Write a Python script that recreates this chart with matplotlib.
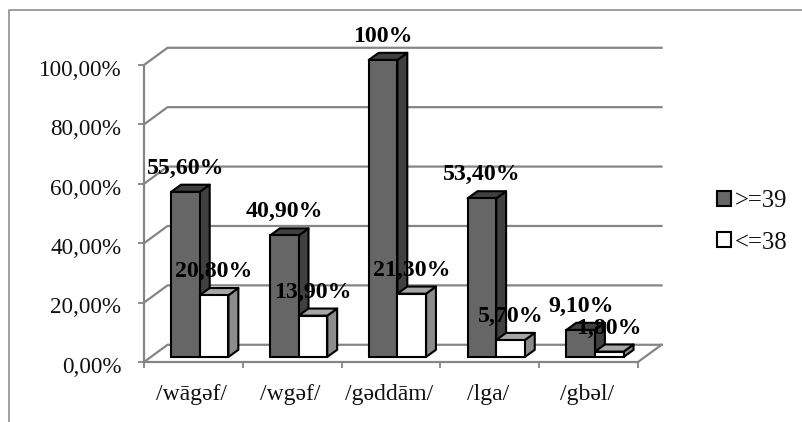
import numpy as np
import matplotlib
matplotlib.use('Agg')
import matplotlib.pyplot as plt
from matplotlib.lines import Line2D
from matplotlib.patches import Patch
from matplotlib.transforms import ScaledTranslation

plt.rcParams['font.family'] = ['Liberation Serif', 'DejaVu Serif']

categorias = ['/wāgəf/', '/wgəf/', '/gəddām/', '/lga/', '/gbəl/']
mayores = [55.6, 40.9, 100, 53.4, 9.1]
menores = [20.8, 13.9, 21.3, 5.7, 1.8]
etiq_mayores = ['55,60%', '40,90%', '100%', '53,40%', '9,10%']
etiq_menores = ['20,80%', '13,90%', '21,30%', '5,70%', '1,80%']
ticks_y = [0, 20, 40, 60, 80, 100]
etiq_y = ['0,00%', '20,00%', '40,00%', '60,00%', '80,00%', '100,00%']

W, H = 802, 422
GRIS = '#858585'

# falso 3D: desplazamientos en unidades de datos
pared_dx, pared_dy = 0.238, 5.8
barra_dx, barra_dy = 0.1, 2.4
base = 1.7
ancho = 0.29
margen = 0.275

fig = plt.figure(figsize=(W / 100, H / 100), dpi=100)
ax = fig.add_axes([144 / W, (H - 362) / H, (638 - 144) / W, (362 - 65) / H])
ax.set_xlim(0, 5)
ax.set_ylim(0, 100)
ax.patch.set_visible(False)

# marco exterior
fig.add_artist(Line2D([8.5 / W, 8.5 / W, 1], [0, 1 - 10 / H, 1 - 10 / H], color=GRIS, lw=1.1))

# rejilla de la pared
for v in ticks_y:
    ax.plot([0, pared_dx, 5 + pared_dx], [v, v + pared_dy, v + pared_dy],
            color=GRIS, lw=1.6, clip_on=False, zorder=1)
ax.plot([5, 5 + pared_dx], [0, pared_dy], color=GRIS, lw=1.6, clip_on=False, zorder=1)


def barra(x, valor, frente, arriba, lado, z):
    b = base + valor
    kw = dict(edgecolor='black', linewidth=1.5, clip_on=False, zorder=z, joinstyle='round')
    ax.fill([x + ancho, x + ancho + barra_dx, x + ancho + barra_dx, x + ancho],
            [base, base + barra_dy, b + barra_dy, b], facecolor=lado, **kw)
    ax.fill([x, x + barra_dx, x + ancho + barra_dx, x + ancho],
            [b, b + barra_dy, b + barra_dy, b], facecolor=arriba, **kw)
    ax.bar(x, valor, width=ancho, bottom=base, align='edge', color=frente,
           edgecolor='black', linewidth=1.5, clip_on=False, zorder=z)


for i in range(len(categorias)):
    x1 = i + margen
    x2 = x1 + ancho
    barra(x1, mayores[i], '#666666', '#404040', '#404040', 3 + i * 2)
    barra(x2, menores[i], '#ffffff', '#a6a6a6', '#8c8c8c', 4 + i * 2)
    for x, val, txt in [(x1, mayores[i], etiq_mayores[i]), (x2, menores[i], etiq_menores[i])]:
        ax.annotate(txt, (x + ancho / 2, base + val), xytext=(0, 17),
                    textcoords='offset points', ha='center', va='center',
                    fontsize=17.2, fontweight='bold', color='black', zorder=30,
                    annotation_clip=False)

# ejes
for s in ['top', 'right']:
    ax.spines[s].set_visible(False)
for s in ['left', 'bottom']:
    ax.spines[s].set_color(GRIS)
    ax.spines[s].set_linewidth(1.6)
ax.set_yticks(ticks_y)
ax.set_yticklabels(etiq_y, fontsize=16.7, color='#111111')
ax.tick_params(axis='y', color=GRIS, width=1.3, length=4.3, pad=12)
# las etiquetas del eje y van un poco mas abajo que las marcas
bajar = ScaledTranslation(0, -2 / 72, fig.dpi_scale_trans)
for t in ax.get_yticklabels():
    t.set_transform(t.get_transform() + bajar)
ax.set_xticks(range(6))
ax.set_xticklabels([])
ax.set_xticks(np.arange(5) + 0.48, minor=True)
ax.set_xticklabels(categorias, minor=True, fontsize=17, color='#111111')
ax.tick_params(axis='x', which='major', color=GRIS, width=1.3, length=4.3)
ax.tick_params(axis='x', which='minor', length=0, pad=15.5)

# leyenda
handles = [Patch(facecolor='#666666', edgecolor='black', linewidth=1.5),
           Patch(facecolor='#ffffff', edgecolor='black', linewidth=1.5)]
fig.legend(handles, ['>=39', '<=38'], loc='center left',
           bbox_to_anchor=(705 / W, 1 - 222 / H), frameon=False, fontsize=17.8,
           handlelength=0.56, handleheight=0.56, handletextpad=0.15,
           labelspacing=0.78, borderpad=0, labelcolor='#111111')

fig.savefig('out.png', dpi=100)
